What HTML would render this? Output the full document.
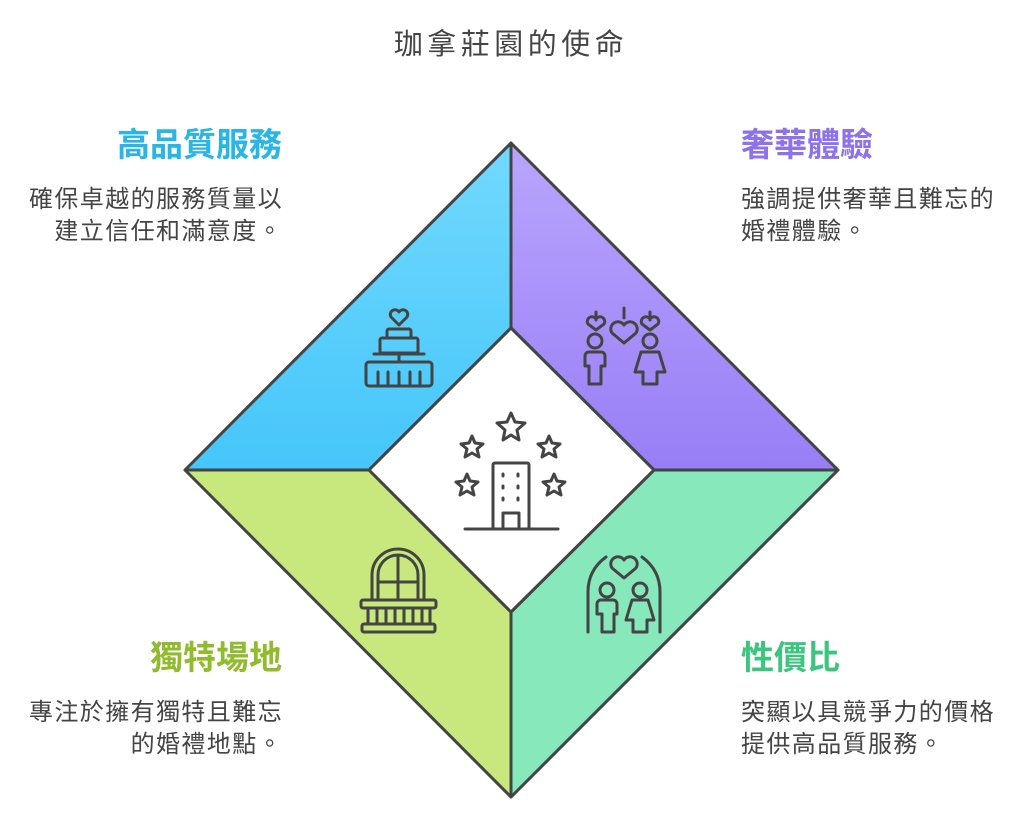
<!DOCTYPE html>
<html><head><meta charset="utf-8"><style>
body{margin:0;background:#fff;width:1023px;height:821px;overflow:hidden;font-family:"Liberation Sans","Noto Sans CJK TC",sans-serif}
</style></head><body>
<svg width="1023" height="821" xmlns="http://www.w3.org/2000/svg" font-family="Liberation Sans, Noto Sans CJK TC, sans-serif">
<defs>
<linearGradient id="gb" x1="0" y1="0" x2="0" y2="1"><stop offset="0" stop-color="#72d9fd"/><stop offset="1" stop-color="#45c6fa"/></linearGradient>
<linearGradient id="gp" x1="0" y1="0" x2="0" y2="1"><stop offset="0" stop-color="#b8a6fc"/><stop offset="1" stop-color="#987ef6"/></linearGradient>
</defs>
<text x="511" y="54" text-anchor="middle" font-size="29" fill="#444" letter-spacing="4.5">珈拿莊園的使命</text>
<g stroke="#444" stroke-width="3" stroke-linejoin="round">
<polygon points="511,143 511,328 369,470 185,470" fill="url(#gb)"/>
<polygon points="511,143 838,470 654,470 511,328" fill="url(#gp)"/>
<polygon points="838,470 511,797 511,612 654,470" fill="#86e8bb"/>
<polygon points="185,470 369,470 511,612 511,797" fill="#c8e87e"/>
<polygon points="511,328 654,470 511,612 369,470" fill="#fff"/>
</g>
<g fill="none" stroke="#444" stroke-width="3" stroke-linecap="round" stroke-linejoin="round">
<path d="M399,325 l-8,-8 a4,4 0 0 1 8,-5 a4,4 0 0 1 8,5z"/>
<rect x="387" y="329" width="24" height="9" rx="2"/>
<rect x="380" y="338" width="38" height="15" rx="2"/>
<line x1="374" y1="354" x2="424" y2="354"/><line x1="399" y1="354" x2="399" y2="361"/>
<rect x="366" y="362" width="66" height="24" rx="3"/>
<path d="M378,372v14M388,372v14M399,372v14M410,372v14M420,372v14"/>
<path d="M596,312v8M650,312v8M624,308v10"/>
<path d="M596,330 l-8,-6 a4,4 0 0 1 8,-5 a4,4 0 0 1 8,5z"/>
<path d="M650,330 l-8,-6 a4,4 0 0 1 8,-5 a4,4 0 0 1 8,5z"/>
<path d="M624,343 l-12,-10 a6,6 0 0 1 12,-8 a6,6 0 0 1 12,8z"/>
<circle cx="595" cy="341" r="7"/><circle cx="650" cy="341" r="7"/>
<path d="M585,366v-10a4,4 0 0 1 4,-4h12a4,4 0 0 1 4,4v10h-4v18h-12v-18z"/>
<path d="M641,352h18l6,20h-8v12h-14v-12h-8z"/>
<path d="M511,413 l4,9 10,1 -8,7 2,10 -8,-5 -8,5 2,-10 -8,-7 10,-1z"/>
<path d="M472,436 l3,7 8,1 -6,5 2,8 -7,-4 -7,4 2,-8 -6,-5 8,-1z"/>
<path d="M549,436 l3,7 8,1 -6,5 2,8 -7,-4 -7,4 2,-8 -6,-5 8,-1z"/>
<path d="M467,474 l3,7 8,1 -6,5 2,8 -7,-4 -7,4 2,-8 -6,-5 8,-1z"/>
<path d="M554,474 l3,7 8,1 -6,5 2,8 -7,-4 -7,4 2,-8 -6,-5 8,-1z"/>
<rect x="493" y="463" width="36" height="66" rx="2"/>
<rect x="503" y="513" width="16" height="16"/>
<line x1="465" y1="529" x2="558" y2="529"/>
<path d="M503,474v2M518,474v2M503,486v2M518,486v2M503,498v2M518,498v2"/>
<path d="M372,600v-25a26,26 0 0 1 52,0v25"/>
<path d="M378,600v-25a20,20 0 0 1 40,0v25M398,555v45M378,582h40"/>
<rect x="361" y="600" width="75" height="8" rx="2"/>
<rect x="362" y="624" width="73" height="8" rx="2"/>
<path d="M368,608v16M377,608v16M386,608v16M395,608v16M404,608v16M413,608v16M422,608v16M430,608v16"/>
<path d="M588,632v-40q0,-22 18,-35M660,632v-40q0,-22 -18,-35"/>
<path d="M624,578 l-12,-10 a6,6 0 0 1 12,-8 a6,6 0 0 1 12,8z"/>
<circle cx="607" cy="590" r="7"/><circle cx="640" cy="590" r="7"/>
<path d="M597,614v-10a4,4 0 0 1 4,-4h12a4,4 0 0 1 4,4v10h-3v18h-12v-18z"/>
<path d="M632,600h16l6,20h-7v12h-14v-12h-7z"/>
</g>
<g font-size="33" font-weight="bold">
<text x="282" y="156" text-anchor="end" fill="#2ab5e8">高品質服務</text>
<text x="741" y="156" fill="#8d72ea">奢華體驗</text>
<text x="282" y="669" text-anchor="end" fill="#8fbb2c">獨特場地</text>
<text x="741" y="669" fill="#3cc57f">性價比</text>
</g>
<g font-size="24" fill="#444" letter-spacing="1.4">
<text x="283" y="207" text-anchor="end">確保卓越的服務質量以</text>
<text x="283" y="239" text-anchor="end">建立信任和滿意度。</text>
<text x="741" y="207">強調提供奢華且難忘的</text>
<text x="741" y="239">婚禮體驗。</text>
<text x="283" y="720" text-anchor="end">專注於擁有獨特且難忘</text>
<text x="283" y="752" text-anchor="end">的婚禮地點。</text>
<text x="741" y="720">突顯以具競爭力的價格</text>
<text x="741" y="752">提供高品質服務。</text>
</g>
</svg>
</body></html>
